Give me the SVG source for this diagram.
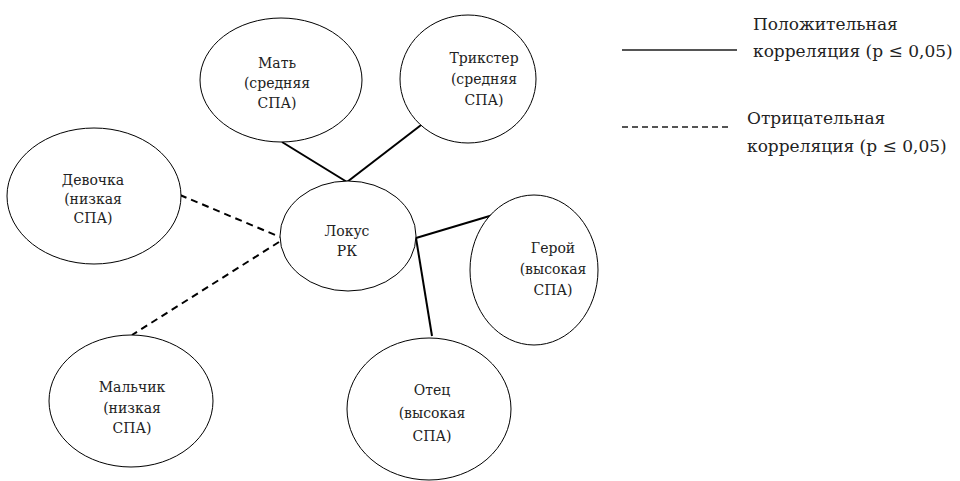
<svg xmlns="http://www.w3.org/2000/svg" width="960" height="481" viewBox="0 0 960 481">
<style>
.node ellipse{fill:#fff;stroke:#000;stroke-width:1}
.pos{stroke:#000;stroke-width:2;fill:none}
.neg{stroke:#000;stroke-width:2;fill:none;stroke-dasharray:7,5}
</style>
<rect width="960" height="481" fill="#fff"/>
<g id="connectors">
<line class="pos" x1="282" y1="142" x2="347" y2="182"/>
<line class="pos" x1="425" y1="122" x2="347" y2="182"/>
<line class="neg" x1="180" y1="195" x2="280" y2="237"/>
<line class="neg" x1="279" y1="242" x2="132" y2="335"/>
<line class="pos" x1="416" y1="238" x2="493" y2="215"/>
<line class="pos" x1="416" y1="238" x2="432" y2="336"/>
</g>
<g id="mat" class="node">
<ellipse cx="281" cy="80" rx="81" ry="62"/>
<text x="277" y="68" font-family="DejaVu Serif, serif" font-size="14" text-anchor="middle" fill="#222">Мать</text>
<text x="277" y="88" font-family="DejaVu Serif, serif" font-size="14" text-anchor="middle" fill="#222">(средняя</text>
<text x="277" y="108" font-family="DejaVu Serif, serif" font-size="14" text-anchor="middle" fill="#222">СПА)</text>
</g>
<g id="trikster" class="node">
<ellipse cx="468" cy="79" rx="68" ry="64"/>
<text x="484" y="63" font-family="DejaVu Serif, serif" font-size="14" text-anchor="middle" fill="#222">Трикстер</text>
<text x="484" y="84" font-family="DejaVu Serif, serif" font-size="14" text-anchor="middle" fill="#222">(средняя</text>
<text x="484" y="105" font-family="DejaVu Serif, serif" font-size="14" text-anchor="middle" fill="#222">СПА)</text>
</g>
<g id="devochka" class="node">
<ellipse cx="94" cy="196" rx="87" ry="68"/>
<text x="93" y="185" font-family="DejaVu Serif, serif" font-size="14" text-anchor="middle" fill="#222">Девочка</text>
<text x="93" y="204" font-family="DejaVu Serif, serif" font-size="14" text-anchor="middle" fill="#222">(низкая</text>
<text x="93" y="223" font-family="DejaVu Serif, serif" font-size="14" text-anchor="middle" fill="#222">СПА)</text>
</g>
<g id="lokus" class="node">
<ellipse cx="348" cy="236" rx="68" ry="55"/>
<text x="347" y="236" font-family="DejaVu Serif, serif" font-size="14" text-anchor="middle" fill="#222">Локус</text>
<text x="347" y="256" font-family="DejaVu Serif, serif" font-size="14" text-anchor="middle" fill="#222">РК</text>
</g>
<g id="geroy" class="node">
<ellipse cx="534" cy="270" rx="64" ry="75"/>
<text x="553" y="253" font-family="DejaVu Serif, serif" font-size="14" text-anchor="middle" fill="#222">Герой</text>
<text x="553" y="274" font-family="DejaVu Serif, serif" font-size="14" text-anchor="middle" fill="#222">(высокая</text>
<text x="553" y="295" font-family="DejaVu Serif, serif" font-size="14" text-anchor="middle" fill="#222">СПА)</text>
</g>
<g id="malchik" class="node">
<ellipse cx="131" cy="401" rx="82" ry="66"/>
<text x="132" y="392" font-family="DejaVu Serif, serif" font-size="14" text-anchor="middle" fill="#222">Мальчик</text>
<text x="132" y="413" font-family="DejaVu Serif, serif" font-size="14" text-anchor="middle" fill="#222">(низкая</text>
<text x="132" y="433" font-family="DejaVu Serif, serif" font-size="14" text-anchor="middle" fill="#222">СПА)</text>
</g>
<g id="otec" class="node">
<ellipse cx="429" cy="409" rx="82" ry="71"/>
<text x="432" y="395" font-family="DejaVu Serif, serif" font-size="14" text-anchor="middle" fill="#222">Отец</text>
<text x="432" y="418" font-family="DejaVu Serif, serif" font-size="14" text-anchor="middle" fill="#222">(высокая</text>
<text x="432" y="441" font-family="DejaVu Serif, serif" font-size="14" text-anchor="middle" fill="#222">СПА)</text>
</g>
<g id="legend">
<line x1="622" y1="50" x2="737" y2="50" stroke="#555" stroke-width="2"/>
<line x1="622" y1="127" x2="730" y2="127" stroke="#555" stroke-width="2" stroke-dasharray="6,4"/>
<text x="753" y="30" font-family="DejaVu Serif, serif" font-size="17" fill="#222">Положительная</text>
<text x="753" y="57" font-family="DejaVu Serif, serif" font-size="17" fill="#222">корреляция (p ≤ 0,05)</text>
<text x="747" y="124" font-family="DejaVu Serif, serif" font-size="17" fill="#222">Отрицательная</text>
<text x="747" y="152" font-family="DejaVu Serif, serif" font-size="17" fill="#222">корреляция (p ≤ 0,05)</text>
</g>
</svg>
